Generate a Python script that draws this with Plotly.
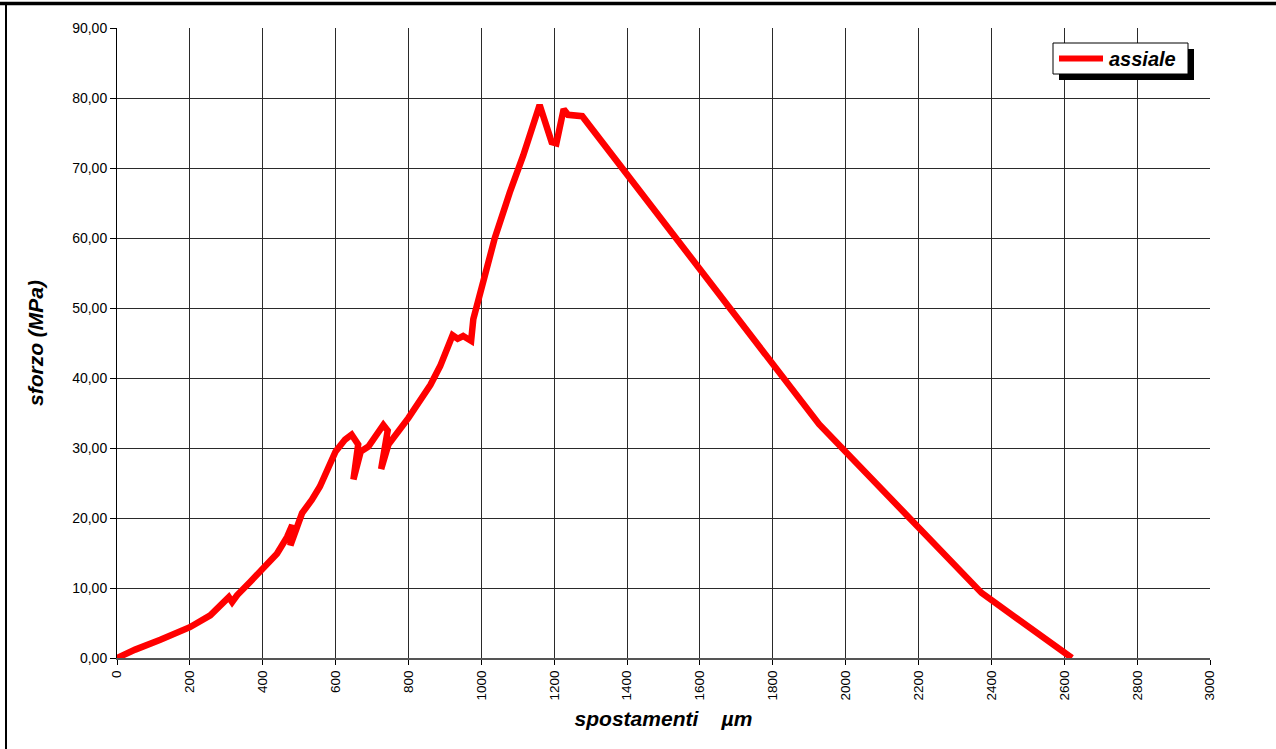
import plotly.graph_objects as go

# displacement (µm) and axial stress (MPa)
spostamenti = [0, 50, 119, 200, 256, 302, 307, 316, 330, 366, 400, 439, 467, 481, 476,
               490, 508, 535, 557, 600, 626, 644, 658, 662, 649, 669, 690, 717, 731,
               743, 725, 745, 800, 860, 887, 921, 935, 950, 969, 972, 978, 1000, 1037,
               1078, 1115, 1160, 1193, 1206, 1226, 1238, 1277, 1927, 2373, 2621]
sforzo = [0.0, 1.2, 2.6, 4.4, 6.1, 8.2, 8.7, 8.0, 9.0, 10.9, 12.8, 14.9, 17.3, 19.0, 16.1,
          18.0, 20.7, 22.6, 24.5, 29.5, 31.2, 31.9, 31.0, 30.5, 25.5, 29.5, 30.2, 32.1, 33.3,
          32.5, 27.0, 30.5, 34.3, 39.0, 41.7, 46.1, 45.6, 46.0, 45.6, 45.3, 48.4, 52.7, 60.0,
          66.5, 71.8, 79.0, 73.7, 73.5, 78.4, 77.6, 77.4, 33.4, 9.3, 0.0]

x_ticks = list(range(0, 3001, 200))
y_ticks = list(range(0, 91, 10))
y_labels = [f"{v:.2f}".replace(".", ",") for v in y_ticks]
series_name = "assiale"

FONT = "Liberation Sans, Arial, sans-serif"
RED = "#ff0000"

fig = go.Figure()
fig.add_trace(go.Scatter(
    x=spostamenti, y=sforzo, mode="lines", name=series_name,
    line=dict(color=RED, width=6.5), showlegend=False,
))

# figure geometry helpers (paper coords from pixel positions)
W, H = 1276, 749
L, R, T, B = 117, 1210, 28, 658
def px(x):
    return (x - L) / (R - L)
def py(y):
    return (B - y) / (B - T)

shapes = [
    # outer frame (top thick line, left line)
    dict(type="line", xref="paper", yref="paper", x0=px(0), x1=px(W), y0=py(3.5), y1=py(3.5),
         line=dict(color="black", width=3.5)),
    dict(type="line", xref="paper", yref="paper", x0=px(6), x1=px(6), y0=py(3), y1=py(H),
         line=dict(color="black", width=2)),
    # legend: shadow, box, line sample
    dict(type="rect", xref="paper", yref="paper", x0=px(1059), x1=px(1194), y0=py(49), y1=py(80),
         fillcolor="black", line=dict(width=0), layer="above"),
    dict(type="rect", xref="paper", yref="paper", x0=px(1053), x1=px(1188), y0=py(43), y1=py(74),
         fillcolor="white", line=dict(color="black", width=1), layer="above"),
    dict(type="line", xref="paper", yref="paper", x0=px(1059), x1=px(1103), y0=py(58.5), y1=py(58.5),
         line=dict(color=RED, width=6), layer="above"),
]

annotations = [
    dict(xref="paper", yref="paper", x=px(1107), y=py(59), xanchor="left", yanchor="middle",
         text=f"<b><i>{series_name}</i></b>", showarrow=False,
         font=dict(family=FONT, size=20, color="black")),
]

fig.update_layout(
    width=W, height=H,
    margin=dict(l=L, r=W - R, t=T, b=H - B),
    paper_bgcolor="white", plot_bgcolor="white",
    font=dict(family=FONT, color="black", size=13),
    showlegend=False,
    shapes=shapes,
    annotations=annotations,
    xaxis=dict(
        range=[0, 3000], tickmode="array", tickvals=x_ticks, ticktext=[str(v) for v in x_ticks],
        tickangle=-90, ticks="outside", ticklen=5, tickcolor="black",
        showgrid=True, gridcolor="#2a2a2a", gridwidth=1,
        showline=True, linecolor="#555555", linewidth=2, zeroline=False,
        tickfont=dict(family=FONT, size=13.5),
        title=dict(text="<b><i>spostamenti&nbsp;&nbsp;&nbsp; µm</i></b>", standoff=12,
                   font=dict(family=FONT, size=21)),
    ),
    yaxis=dict(
        range=[0, 90], tickmode="array", tickvals=y_ticks, ticktext=y_labels,
        ticks="outside", ticklen=6, tickcolor="black",
        showgrid=True, gridcolor="#2a2a2a", gridwidth=1,
        showline=True, linecolor="black", linewidth=1, zeroline=False,
        tickfont=dict(family=FONT, size=14),
        title=dict(text="<b><i>sforzo (MPa)</i></b>", standoff=22,
                   font=dict(family=FONT, size=21)),
    ),
)

fig.write_html("out.html", config={"displayModeBar": False},
               post_script="document.body.style.margin='0px';")
